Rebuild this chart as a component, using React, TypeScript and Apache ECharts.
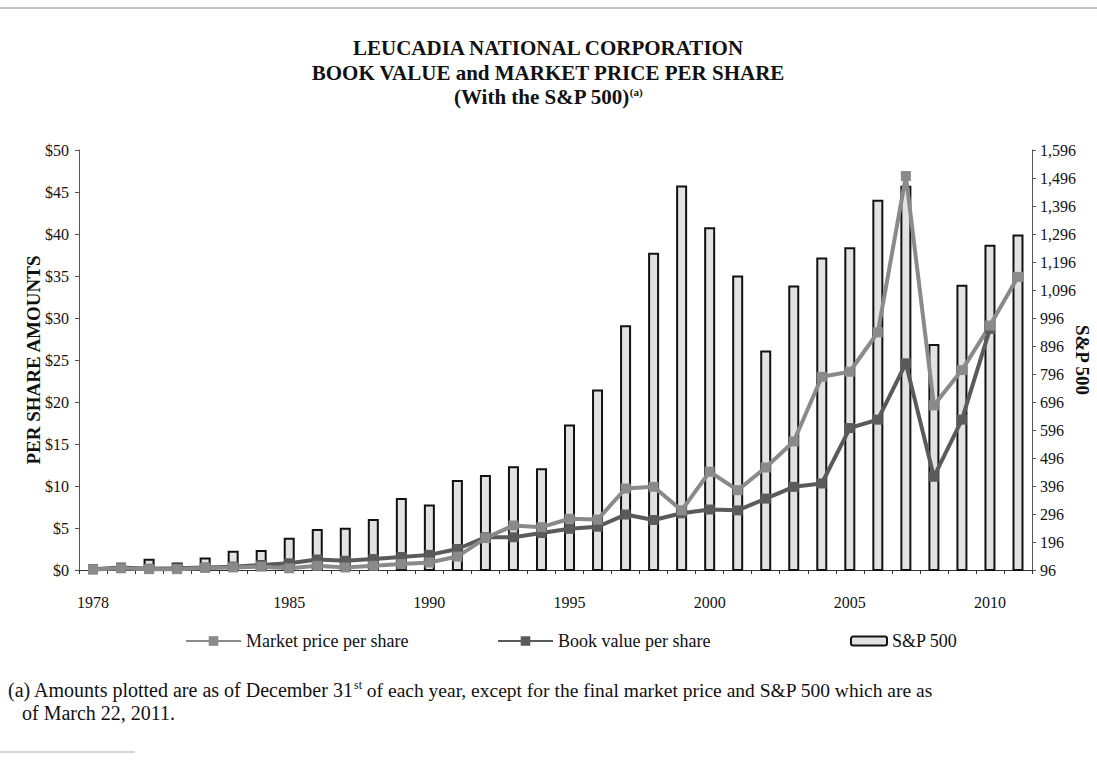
import React, { useEffect, useRef } from "react";
import * as echarts from "echarts";

const years = [
  "1978", "1979", "1980", "1981", "1982", "1983", "1984", "1985", "1986", "1987",
  "1988", "1989", "1990", "1991", "1992", "1993", "1994", "1995", "1996", "1997",
  "1998", "1999", "2000", "2001", "2002", "2003", "2004", "2005", "2006", "2007",
  "2008", "2009", "2010", "2011",
];
const xTickLabels = ["1978", "1985", "1990", "1995", "2000", "2005", "2010"];

const marketPrice = [
  0.05, 0.2, 0.1, 0.1, 0.25, 0.3, 0.4, 0.2, 0.5, 0.3,
  0.5, 0.7, 0.9, 1.6, 3.8, 5.3, 5.1, 6.1, 6.0, 9.7,
  9.9, 7.1, 11.7, 9.5, 12.2, 15.3, 23.0, 23.6, 28.3, 46.9,
  19.6, 23.8, 29.1, 34.9,
];
const bookValue = [
  0.1, 0.3, 0.15, 0.2, 0.3, 0.4, 0.6, 0.8, 1.25, 1.1,
  1.3, 1.55, 1.8, 2.5, 3.9, 3.9, 4.4, 4.9, 5.15, 6.6,
  5.95, 6.75, 7.2, 7.1, 8.5, 9.9, 10.3, 16.9, 17.9, 24.6,
  11.1, 17.9, 28.7, null,
];
const sp500 = [
  96.1, 107.9, 135.8, 122.6, 140.6, 164.9, 167.2, 211.3, 242.2, 247.1,
  277.7, 353.4, 330.2, 417.1, 435.7, 466.5, 459.3, 615.9, 740.7, 970.4,
  1229.2, 1469.3, 1320.3, 1148.1, 879.8, 1111.9, 1211.9, 1248.3, 1418.3, 1468.4,
  903.3, 1115.1, 1257.6, 1293.8,
];

const SERIF = "'Liberation Serif', 'Times New Roman', serif";

export default function App() {
  const ref = useRef<HTMLDivElement>(null);

  useEffect(() => {
    if (!ref.current) return;
    const chart = echarts.init(ref.current, undefined, { renderer: "svg" });
    const legendBase = {
      top: 632,
      padding: 0,
      itemGap: 0,
      textStyle: { fontFamily: SERIF, fontSize: 18, color: "#111" },
    };
    const option: any = {
      animation: false,
      backgroundColor: "#ffffff",
      textStyle: { fontFamily: SERIF, color: "#111" },
      grid: { left: 79, right: 65, top: 150, bottom: 198, outerBoundsMode: "none", containLabel: false },
      legend: [
        { ...legendBase, data: ["Market price per share"], left: 185, itemWidth: 55, itemHeight: 12 },
        { ...legendBase, data: ["Book value per share"], left: 497, itemWidth: 55, itemHeight: 12 },
        { ...legendBase, data: ["S&P 500"], left: 850, itemWidth: 36, itemHeight: 9 },
      ],
      xAxis: {
        type: "category",
        data: years,
        boundaryGap: true,
        axisLine: { lineStyle: { color: "#333", width: 1 } },
        axisTick: { show: true, interval: 0, length: 4, lineStyle: { color: "#333" } },
        axisLabel: {
          interval: (_i: number, v: string) => xTickLabels.includes(v),
          fontFamily: SERIF,
          fontSize: 16,
          color: "#111",
          margin: 24,
        },
        splitLine: { show: false },
      },
      yAxis: [
        {
          type: "value",
          position: "left",
          min: 0,
          max: 50,
          interval: 5,
          axisLine: { show: true, lineStyle: { color: "#555", width: 1 } },
          axisTick: { show: true, length: 4, lineStyle: { color: "#555" } },
          axisLabel: {
            formatter: (v: number) => "$" + v,
            fontFamily: SERIF,
            fontSize: 16,
            color: "#111",
            margin: 10,
          },
          splitLine: { show: false },
          name: "PER SHARE AMOUNTS",
          nameLocation: "middle",
          nameGap: 36,
          nameMoveOverlap: false,
          nameTextStyle: { fontFamily: SERIF, fontWeight: "bold", fontSize: 19, color: "#111" },
        },
        {
          type: "value",
          position: "right",
          min: 96,
          max: 1596,
          interval: 100,
          axisLine: { show: true, lineStyle: { color: "#555", width: 1 } },
          axisTick: { show: true, length: 4, lineStyle: { color: "#555" } },
          axisLabel: {
            formatter: (v: number) => Math.round(v).toLocaleString("en-US"),
            fontFamily: SERIF,
            fontSize: 16,
            color: "#111",
            margin: 8,
          },
          splitLine: { show: false },
          name: "S&P 500",
          nameLocation: "middle",
          nameRotate: -90,
          nameGap: 41,
          nameMoveOverlap: false,
          nameTextStyle: { fontFamily: SERIF, fontWeight: "bold", fontSize: 19, color: "#111" },
        },
      ],
      series: [
        {
          name: "S&P 500",
          type: "bar",
          yAxisIndex: 1,
          data: sp500,
          barWidth: 11,
          itemStyle: { color: "#e2e2e2", borderColor: "#111", borderWidth: 2 },
        },
        {
          name: "Book value per share",
          type: "line",
          yAxisIndex: 0,
          data: bookValue,
          symbol: "rect",
          symbolSize: 10,
          lineStyle: { color: "#5a5a5a", width: 4 },
          itemStyle: { color: "#5a5a5a" },
        },
        {
          name: "Market price per share",
          type: "line",
          yAxisIndex: 0,
          data: marketPrice,
          symbol: "rect",
          symbolSize: 10,
          lineStyle: { color: "#8a8a8a", width: 4 },
          itemStyle: { color: "#8a8a8a" },
        },
      ],
      graphic: [
        {
          type: "line",
          shape: { x1: 0, y1: 8, x2: 1097, y2: 8 },
          style: { stroke: "#888", lineWidth: 1 },
        },
        {
          type: "line",
          shape: { x1: 0, y1: 752, x2: 135, y2: 752 },
          style: { stroke: "#aaa", lineWidth: 1 },
        },
        {
          type: "text",
          x: 548,
          y: 48,
          style: {
            text: "LEUCADIA NATIONAL CORPORATION",
            font: `bold 21px ${SERIF}`,
            fill: "#111",
            textAlign: "center",
            align: "center",
            textVerticalAlign: "middle",
            verticalAlign: "middle",
          },
        },
        {
          type: "text",
          x: 548,
          y: 73,
          style: {
            text: "BOOK VALUE and MARKET PRICE PER SHARE",
            font: `bold 21px ${SERIF}`,
            fill: "#111",
            textAlign: "center",
            align: "center",
            textVerticalAlign: "middle",
            verticalAlign: "middle",
          },
        },
        {
          type: "text",
          x: 548,
          y: 97,
          style: {
            text: "(With the S&P 500){a|(a)}",
            font: `bold 21px ${SERIF}`,
            fill: "#111",
            textAlign: "center",
            align: "center",
            textVerticalAlign: "middle",
            verticalAlign: "middle",
            rich: {
              a: { font: `bold 11px ${SERIF}`, fill: "#111", padding: [0, 0, 10, 0] },
            },
          },
        },
        {
          type: "text",
          x: 8,
          y: 690,
          style: {
            text:
              "(a) Amounts plotted are as of December 31{sup|st}{b| of each year, except for the final market price and S&P 500 which are as}",
            font: `20px ${SERIF}`,
            fill: "#111",
            textAlign: "left",
            align: "left",
            textVerticalAlign: "middle",
            verticalAlign: "middle",
            rich: {
              sup: { font: `12px ${SERIF}`, fill: "#111", padding: [0, 0, 10, 0] },
              b: { font: `19.5px ${SERIF}`, fill: "#111" },
            },
          },
        },
        {
          type: "text",
          x: 22,
          y: 713,
          style: {
            text: "of March 22, 2011.",
            font: `20px ${SERIF}`,
            fill: "#111",
            textAlign: "left",
            align: "left",
            textVerticalAlign: "middle",
            verticalAlign: "middle",
          },
        },
      ],
    };
    chart.setOption(option);
    return () => chart.dispose();
  }, []);

  return (
    <div
      ref={ref}
      style={{ position: "absolute", left: 0, top: 0, width: 1097, height: 768, background: "#fff" }}
    />
  );
}
